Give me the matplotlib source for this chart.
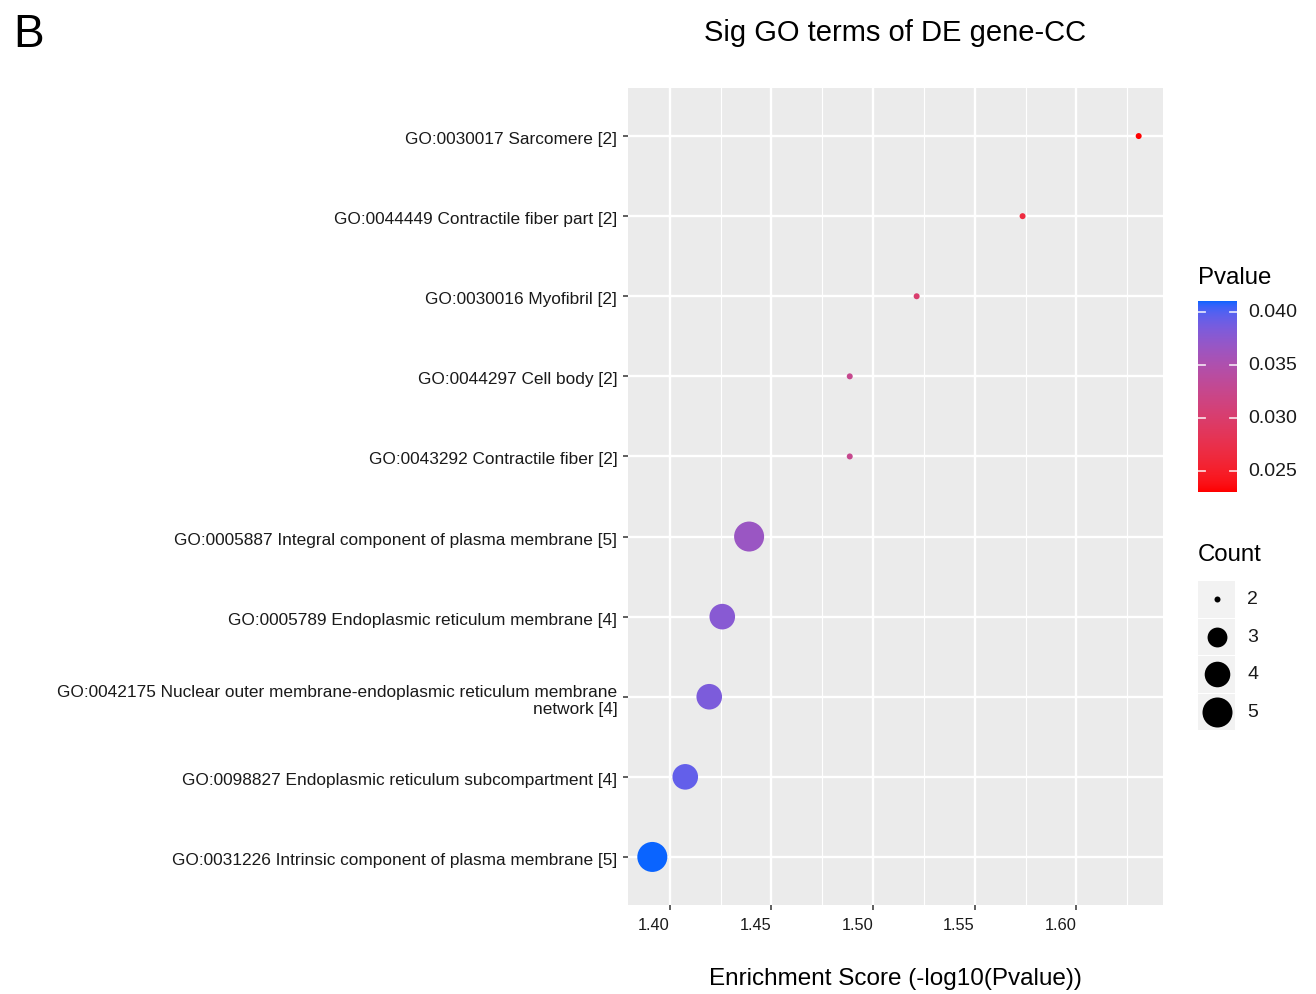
import numpy as np
import matplotlib
matplotlib.use("Agg")
import matplotlib.pyplot as plt
from matplotlib.colors import ListedColormap, Normalize

plt.rcParams['font.family'] = ['Liberation Sans', 'DejaVu Sans']

# ---------------- data ----------------
terms = [
    "GO:0030017 Sarcomere [2]",
    "GO:0044449 Contractile fiber part [2]",
    "GO:0030016 Myofibril [2]",
    "GO:0044297 Cell body [2]",
    "GO:0043292 Contractile fiber [2]",
    "GO:0005887 Integral component of plasma membrane [5]",
    "GO:0005789 Endoplasmic reticulum membrane [4]",
    "GO:0042175 Nuclear outer membrane-endoplasmic reticulum membrane\nnetwork [4]",
    "GO:0098827 Endoplasmic reticulum subcompartment [4]",
    "GO:0031226 Intrinsic component of plasma membrane [5]",
]
enrichment = [1.6306, 1.5735, 1.5214, 1.4885, 1.4885, 1.4390, 1.4258, 1.4194, 1.4076, 1.3914]
pvalue = [0.0234, 0.0267, 0.0301, 0.0325, 0.0325, 0.0364, 0.0375, 0.0381, 0.0391, 0.0406]
count = [2, 2, 2, 2, 2, 5, 4, 4, 4, 5]

x_ticks = [1.40, 1.45, 1.50, 1.55, 1.60]
x_tick_labels = ["1.40", "1.45", "1.50", "1.55", "1.60"]
p_ticks = [0.025, 0.030, 0.035, 0.040]
p_tick_labels = ["0.025", "0.030", "0.035", "0.040"]
count_levels = [2, 3, 4, 5]

title = "Sig GO terms of DE gene-CC"
xlabel = "Enrichment Score (-log10(Pvalue))"

# ---------------- colour scale (Lab interpolation like ggplot) ----------------
def hex2rgb(h):
    h = h.lstrip('#')
    return np.array([int(h[i:i + 2], 16) / 255 for i in (0, 2, 4)])

M = np.array([[0.4124, 0.3576, 0.1805], [0.2126, 0.7152, 0.0722], [0.0193, 0.1192, 0.9505]])
WHITE = np.array([0.95047, 1.0, 1.08883])

def rgb2lab(c):
    lin = np.where(c <= 0.04045, c / 12.92, ((c + 0.055) / 1.055) ** 2.4)
    xyz = M @ lin / WHITE
    f = np.where(xyz > 0.008856, np.cbrt(xyz), 7.787 * xyz + 16 / 116)
    return np.array([116 * f[1] - 16, 500 * (f[0] - f[1]), 200 * (f[1] - f[2])])

def lab2rgb(lab):
    L, a, b = lab
    fy = (L + 16) / 116
    fx = fy + a / 500
    fz = fy - b / 200
    f = np.array([fx, fy, fz])
    xyz = np.where(f ** 3 > 0.008856, f ** 3, (f - 16 / 116) / 7.787) * WHITE
    lin = np.linalg.solve(M, xyz)
    lin = np.clip(lin, 0, 1)
    c = np.where(lin <= 0.0031308, 12.92 * lin, 1.055 * lin ** (1 / 2.4) - 0.055)
    return np.clip(c, 0, 1)

lab_lo = rgb2lab(hex2rgb("#FF0000"))
lab_hi = rgb2lab(hex2rgb("#0A64FF"))
cm_colors = [lab2rgb(lab_lo + t * (lab_hi - lab_lo)) for t in np.linspace(0, 1, 256)]
cmap = ListedColormap(cm_colors)
norm = Normalize(vmin=min(pvalue), vmax=max(pvalue))

def diam_px(c):
    # ggplot-like area scale, range 1..6
    lo, hi = min(count_levels), max(count_levels)
    size = 1 + 5 * np.sqrt((np.asarray(c, float) - lo) / (hi - lo))
    return 4.8 * size + 1.2

def s_of(c):
    return (diam_px(c) * 72 / 100) ** 2

# ---------------- figure ----------------
W, H = 1316, 995
fig = plt.figure(figsize=(W / 100, H / 100), dpi=100)

def box(x0, y0, x1, y1):
    return [x0 / W, 1 - y1 / H, (x1 - x0) / W, (y1 - y0) / H]

ax = fig.add_axes(box(628, 89, 1163, 906))
ax.set_facecolor('#EBEBEB')
for sp in ax.spines.values():
    sp.set_visible(False)

n = len(terms)
ypos = np.arange(n)
xmin, xmax = min(enrichment), max(enrichment)
rng = xmax - xmin
ax.set_xlim(xmin - 0.05 * rng, xmax + 0.05 * rng)
ax.set_ylim(n - 0.4, -0.6)

ax.set_xticks(x_ticks)
ax.set_xticklabels(x_tick_labels)
ax.set_xticks([1.425, 1.475, 1.525, 1.575, 1.625], minor=True)
ax.set_yticks(ypos)
ax.set_yticklabels(terms, fontsize=12.4, color='#1a1a1a', linespacing=1.15)
ax.grid(which='major', color='white', linewidth=1.7)
ax.grid(which='minor', axis='x', color='white', linewidth=0.8)
ax.set_axisbelow(True)
ax.tick_params(which='major', length=3.5, width=1.1, color='#333333')
ax.tick_params(which='minor', length=0)
ax.tick_params(axis='y', pad=4.2)
ax.tick_params(axis='x', pad=5.5, labelsize=11.8, labelcolor='#1a1a1a')
for lab in ax.get_yticklabels():
    lab.set_y(lab.get_position()[1])
    lab.set_transform(lab.get_transform() + matplotlib.transforms.ScaledTranslation(0, -1 / 100, fig.dpi_scale_trans))
for lab in ax.get_xticklabels():
    lab.set_ha('right')

ax.scatter(enrichment, ypos, s=s_of(count), c=pvalue, cmap=cmap, norm=norm,
           linewidths=0, zorder=3)

fig.text(895 / W, 1 - 33 / H, title, ha='center', va='center', fontsize=21)
fig.text(895 / W, 1 - 979 / H, xlabel, ha='center', va='center', fontsize=17.5)
fig.text(13 / W, 1 - 35 / H, "B", ha='left', va='center', fontsize=33)

# ---------------- Pvalue colour bar ----------------
fig.text(1198 / W, 1 - 278 / H, "Pvalue", ha='left', va='center', fontsize=17.3)
cax = fig.add_axes(box(1198, 302, 1237, 493))
pmin, pmax = min(pvalue), max(pvalue)
pad = (pmax - pmin) / 40
grad = np.linspace(pmax, pmin, 256).reshape(-1, 1)
cax.imshow(grad, cmap=cmap, norm=norm, aspect='auto',
           extent=[0, 1, pmin - pad, pmax + pad], interpolation='bilinear')
cax.set_xlim(0, 1)
cax.set_ylim(pmin - pad, pmax + pad)
for sp in cax.spines.values():
    sp.set_visible(False)
cax.set_xticks([])
cax.set_yticks([])
for pt, pl in zip(p_ticks, p_tick_labels):
    cax.plot([0, 0.18], [pt, pt], color='white', lw=1.3, alpha=0.8)
    cax.plot([0.82, 1], [pt, pt], color='white', lw=1.3, alpha=0.8)
    cax.text(1.28, pt, pl, transform=cax.transData, ha='left', va='center',
             fontsize=14, color='#1a1a1a', clip_on=False)

# ---------------- Count legend ----------------
fig.text(1198 / W, 1 - 555 / H, "Count", ha='left', va='center', fontsize=17.3)
lax = fig.add_axes(box(1196, 578, 1280, 732))
lax.set_xlim(1196, 1280)
lax.set_ylim(732, 578)
lax.axis('off')
key_y = [600, 637.5, 675, 712.5]
for cl, ky in zip(count_levels, key_y):
    lax.add_patch(plt.Rectangle((1198, ky - 18), 37, 36.5, facecolor='#F2F2F2',
                                edgecolor='none'))
    lax.scatter([1216.5], [ky], s=s_of(cl), color='black', linewidths=0, zorder=3)
    lax.text(1247, ky, str(cl), ha='left', va='center', fontsize=14, color='#1a1a1a')

fig.savefig("out.png", dpi=100)
